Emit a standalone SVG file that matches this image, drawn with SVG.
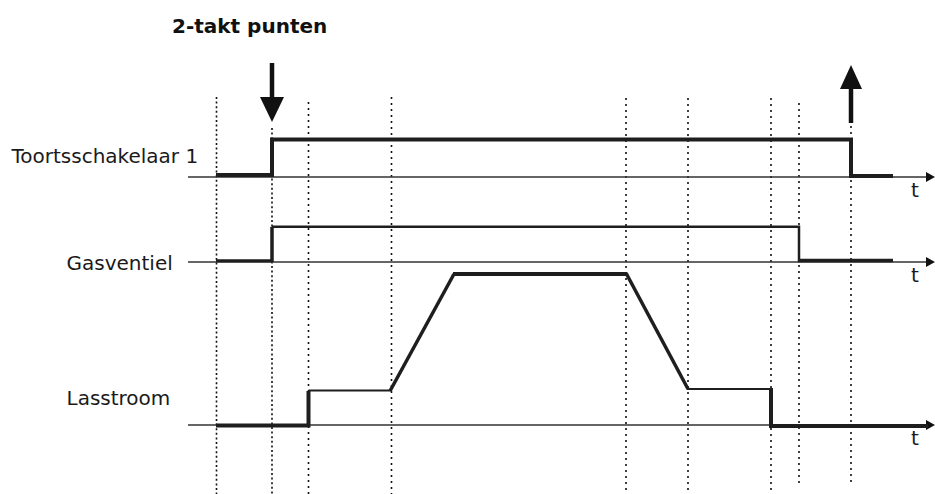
<svg xmlns="http://www.w3.org/2000/svg" width="935" height="494" viewBox="0 0 935 494">
<style>
.lbl{font-family:"DejaVu Sans",sans-serif;font-size:20px;fill:#1a1a1a}
.ttl{font-family:"DejaVu Sans",sans-serif;font-size:20px;font-weight:bold;fill:#111}
.axis{stroke:#333;stroke-width:1.3;fill:none}
.dot{stroke:#111;stroke-width:1.6;stroke-dasharray:2 4;fill:none}
.dense{stroke-dasharray:2 2.6}
.sig{stroke:#1e1e1e;fill:none;stroke-linejoin:miter;stroke-linecap:butt}
.ah{fill:#111}
</style>
<rect width="935" height="494" fill="#fff"/>
<g id="title"><text class="ttl" x="172" y="32.5">2-takt punten</text></g>
<g id="guides">
<line class="dot dense" x1="216.5" y1="97" x2="216.5" y2="494"/>
<line class="dot dense" x1="272" y1="128" x2="272" y2="494"/>
<line class="dot" x1="308.5" y1="102" x2="308.5" y2="494"/>
<line class="dot" x1="391.5" y1="97" x2="391.5" y2="494"/>
<line class="dot" x1="626" y1="98" x2="626" y2="494"/>
<line class="dot" x1="688" y1="98" x2="688" y2="494"/>
<line class="dot" x1="771" y1="98" x2="771" y2="494"/>
<line class="dot" x1="799" y1="103" x2="799" y2="484"/>
<line class="dot" x1="851" y1="126" x2="851" y2="484"/>
</g>
<g id="axes">
<line class="axis" x1="188" y1="177" x2="928" y2="177"/>
<polygon class="ah" points="926,172 935,177 926,182"/>
<line class="axis" x1="188" y1="262" x2="928" y2="262"/>
<polygon class="ah" points="926,257 935,262 926,267"/>
<line class="axis" x1="188" y1="425" x2="928" y2="425"/>
<polygon class="ah" points="926,420 935,425 926,430"/>
</g>
<g id="toortsschakelaar">
<text class="lbl" x="11.5" y="162.5">Toortsschakelaar 1</text>
<path class="sig" stroke-width="4" d="M216,175 H272 V139.5 H851 V176 H893"/>
<text class="lbl" x="911" y="197">t</text>
</g>
<g id="gasventiel">
<text class="lbl" x="66.5" y="270">Gasventiel</text>
<path class="sig" stroke-width="3" d="M216,260.8 H272"/>
<path class="sig" stroke-width="3.5" d="M272,262 V226.8"/>
<path class="sig" stroke-width="2.5" d="M272,226.8 H799 V262"/>
<path class="sig" stroke-width="3.5" d="M798,260.5 H893"/>
<text class="lbl" x="911" y="281.5">t</text>
</g>
<g id="lasstroom">
<text class="lbl" x="66.5" y="405">Lasstroom</text>
<path class="sig" stroke-width="4" d="M216,425.5 H308.5 V391"/>
<path class="sig" stroke-width="2" d="M308.5,390.5 H391"/>
<path class="sig" stroke-width="3.5" d="M390,391 L454,274"/>
<path class="sig" stroke-width="4" d="M453,274 H627"/>
<path class="sig" stroke-width="3.5" d="M626,273 L688,389"/>
<path class="sig" stroke-width="2" d="M687,389 H771"/>
<path class="sig" stroke-width="4" d="M771,388 V426 H928"/>
<text class="lbl" x="911" y="445">t</text>
</g>
<g id="markers">
<line stroke="#111" stroke-width="4.5" x1="272" y1="63" x2="272" y2="100"/>
<polygon class="ah" points="260,97 284,97 272,122"/>
<line stroke="#111" stroke-width="4.5" x1="851" y1="86" x2="851" y2="123"/>
<polygon class="ah" points="840,89 862,89 851,65"/>
</g>
</svg>
